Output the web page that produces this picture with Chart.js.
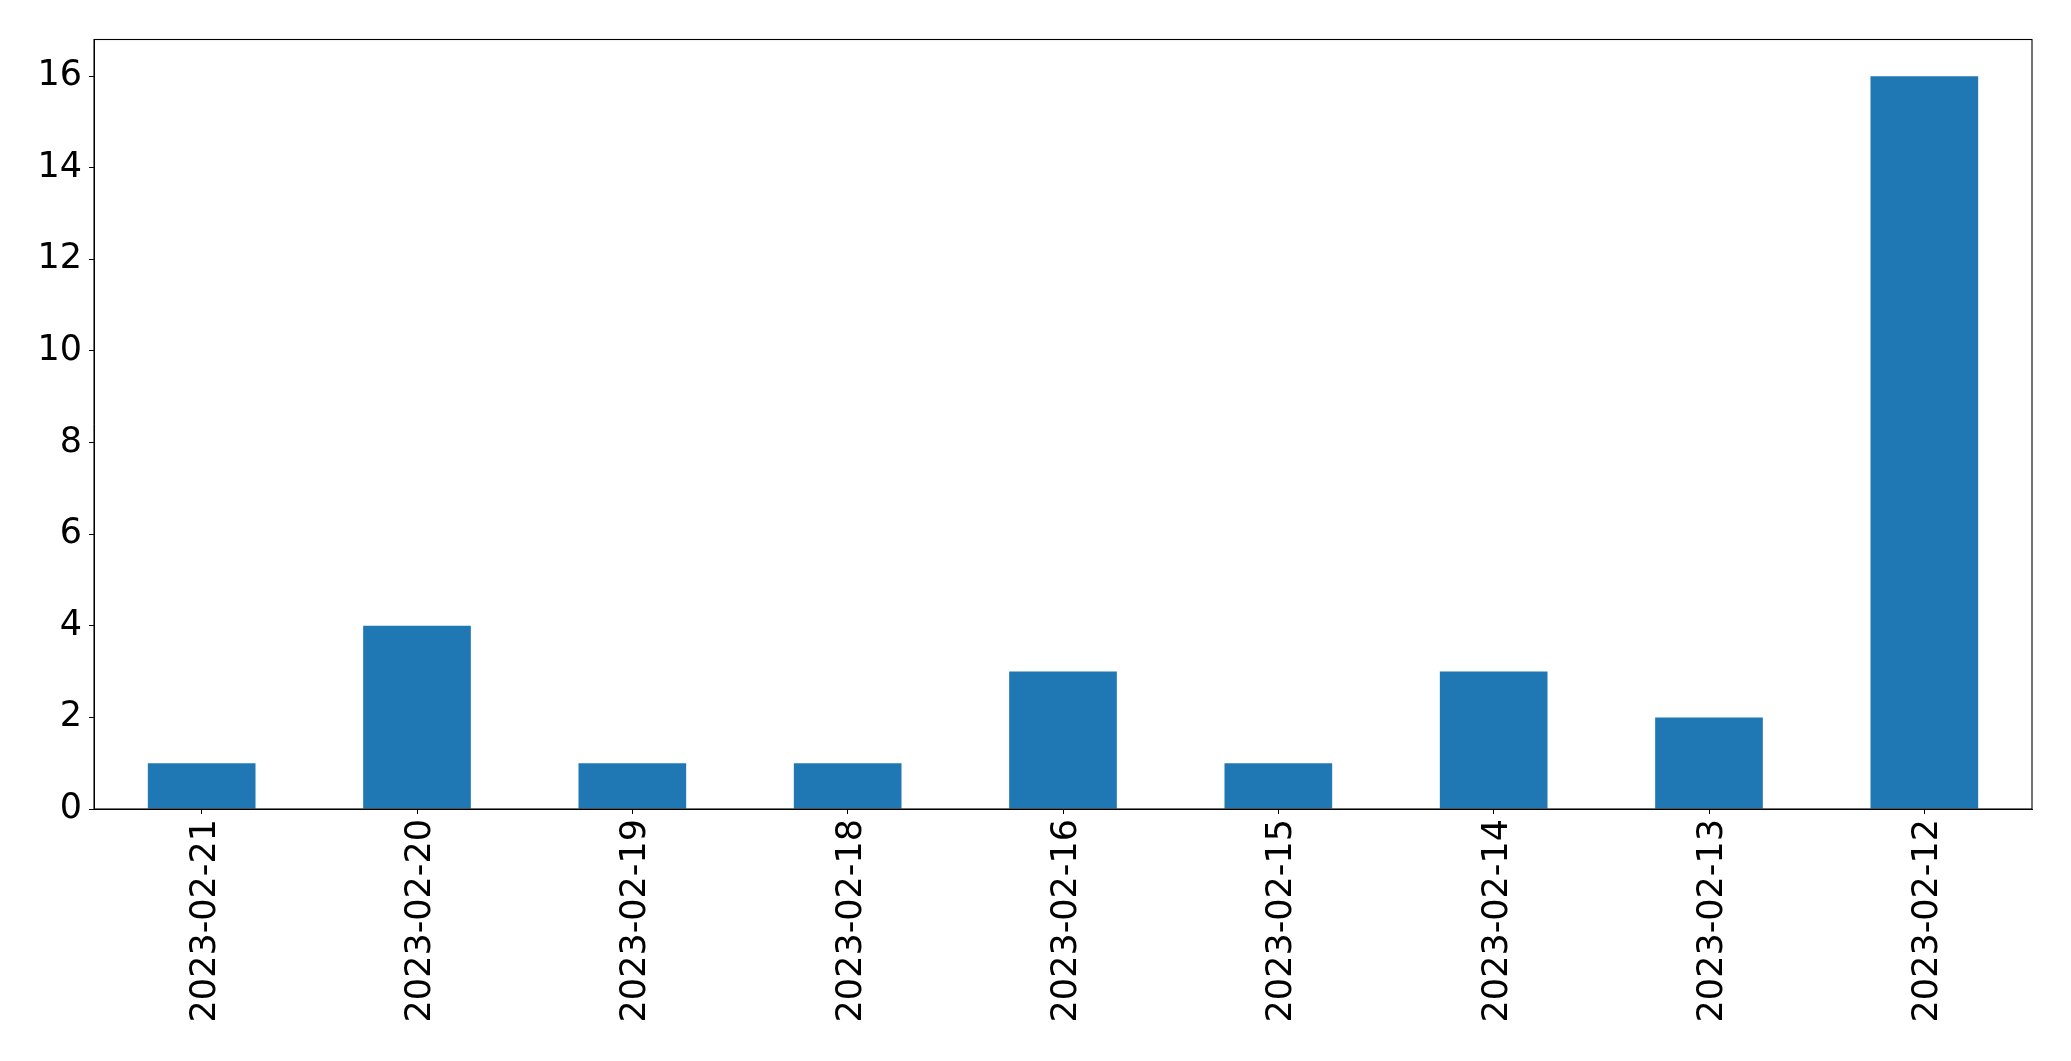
<!DOCTYPE html>
<html>
<head>
<meta charset="utf-8">
<script src="https://cdn.jsdelivr.net/npm/chart.js@4/dist/chart.umd.min.js"></script>
<style>
  html, body { margin: 0; padding: 0; background: #fff; }
  #wrap { width: 2071px; height: 1061px; }
</style>
</head>
<body>
<div id="wrap"><canvas id="myChart" width="2071" height="1061"></canvas></div>
<script>
const fechas = ["2023-02-21", "2023-02-20", "2023-02-19", "2023-02-18", "2023-02-16",
  "2023-02-15", "2023-02-14", "2023-02-13", "2023-02-12"];
const cantidades = [1, 4, 1, 1, 3, 1, 3, 2, 16];
const yTicks = [0, 2, 4, 6, 8, 10, 12, 14, 16];

// marco negro alrededor del área del gráfico (como los spines de matplotlib)
const marco = {
  id: "marco",
  afterDraw(chart) {
    const { ctx, chartArea: a } = chart;
    ctx.save();
    ctx.strokeStyle = "#000";
    ctx.lineWidth = 1.1;
    ctx.strokeRect(a.left, a.top, a.right - a.left, a.bottom - a.top);
    ctx.restore();
  }
};

const fuente = { family: "DejaVu Sans", size: 35 };

new Chart(document.querySelector("#myChart"), {
  type: "bar",
  data: {
    labels: fechas,
    datasets: [{
      data: cantidades,
      backgroundColor: "#1f77b4",
      barPercentage: 0.5,
      categoryPercentage: 1.0
    }]
  },
  options: {
    responsive: false,
    animation: false,
    layout: { padding: { left: 0, top: 39.5, right: 39, bottom: 0 } },
    plugins: { legend: { display: false }, tooltip: { enabled: false } },
    scales: {
      x: {
        offset: true,
        grid: { drawOnChartArea: false, drawTicks: true, tickLength: 5, color: "#000", offset: false },
        border: { display: true, color: "#000", width: 1 },
        ticks: {
          color: "#000",
          font: fuente,
          autoSkip: false,
          minRotation: 90,
          maxRotation: 90,
          padding: 5,
          labelOffset: 4
        },
        afterFit(scale) { scale.height = 252; }
      },
      y: {
        min: 0,
        max: 16.8,
        grid: { drawOnChartArea: false, drawTicks: true, tickLength: 5, color: "#000" },
        border: { display: true, color: "#000", width: 1 },
        ticks: {
          color: "#000",
          font: fuente,
          stepSize: 2,
          includeBounds: false,
          padding: 7
        },
        afterBuildTicks(scale) { scale.ticks = yTicks.map(v => ({ value: v })); },
        afterFit(scale) { scale.width = 94; }
      }
    }
  },
  plugins: [marco]
});
</script>
</body>
</html>
